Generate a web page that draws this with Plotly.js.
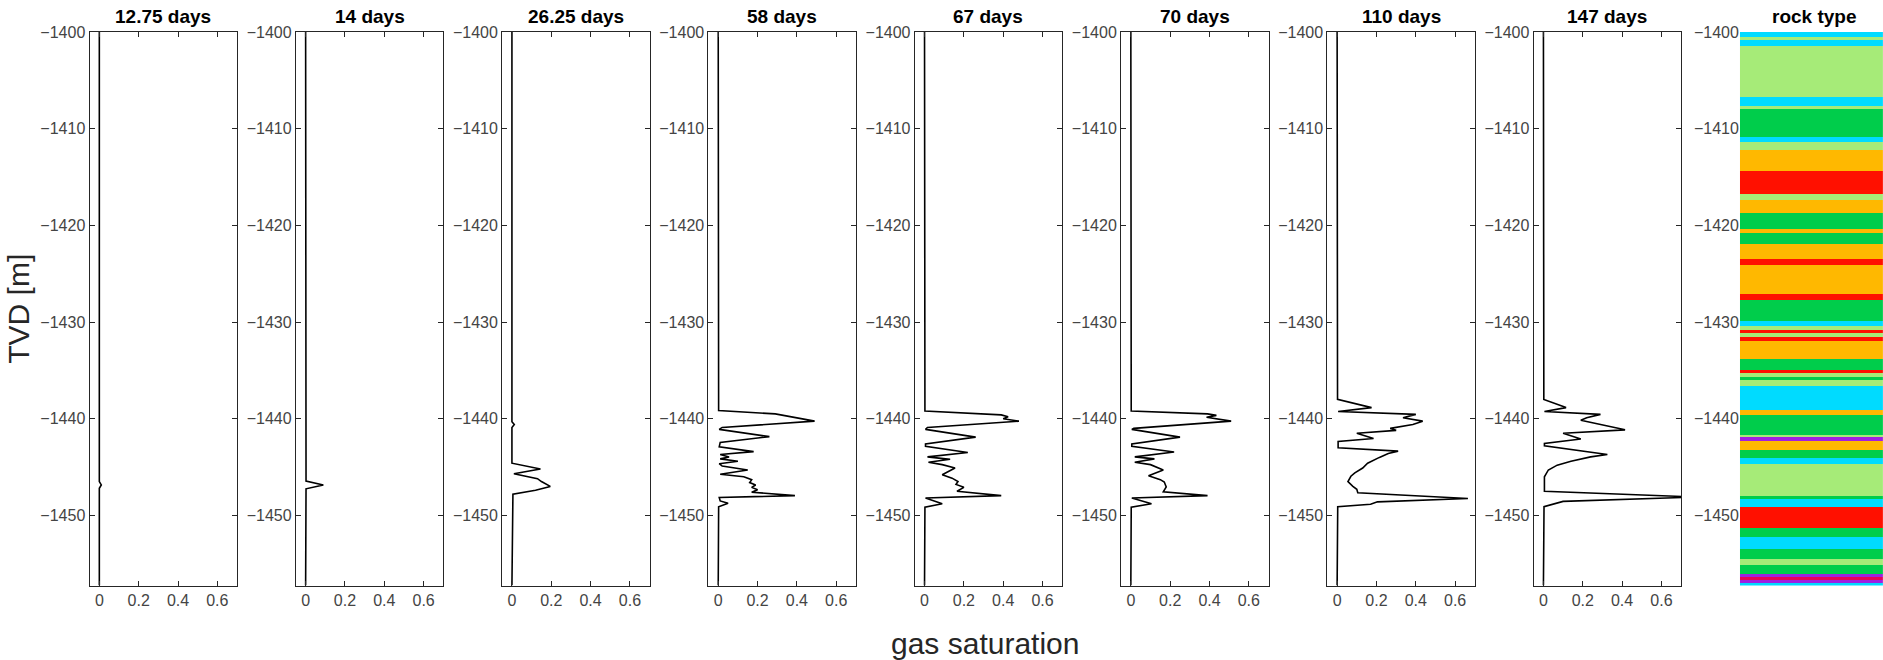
<!DOCTYPE html>
<html>
<head>
<meta charset="utf-8">
<script src="https://cdn.plot.ly/plotly-3.0.1.min.js"></script>
<style>html,body{margin:0;padding:0;background:#fff;}#chart{width:1883px;height:660px;}</style>
</head>
<body>
<div id="chart"></div>
<script>
// ---------- data ----------
const panelTitles = ['12.75 days','14 days','26.25 days','58 days','67 days','70 days','110 days','147 days'];
const rockTitle = 'rock type';
const yTickVals = [-1450,-1440,-1430,-1420,-1410,-1400];
const xTickVals = [0,0.2,0.4,0.6];
const xTickText = ['0','0.2','0.4','0.6'];

const depth_12_75 = [-1400,-1446.5,-1446.85,-1447.2,-1457.25];
const sg_12_75    = [0,0,0.01,0,0];

const depth_14 = [-1400,-1446.45,-1446.85,-1447.25,-1457.25];
const sg_14    = [0,0.002,0.09,0.002,0];

const depth_26_25 = [-1400,-1440.3,-1440.6,-1440.9,-1444.6,-1445.2,-1445.7,-1446.2,-1446.5,-1447.0,-1447.4,-1447.8,-1457.25];
const sg_26_25    = [0,0,0.012,0,0,0.145,0.01,0.13,0.15,0.195,0.12,0.005,0];

const depth_58 = [-1400,-1439.15,-1439.5,-1439.8,-1440.25,-1440.9,-1441.1,-1441.85,-1442.45,-1442.9,-1443.4,-1443.7,-1443.95,-1444.15,-1444.4,-1444.65,-1444.9,-1445.3,-1445.75,-1446.0,-1446.3,-1446.6,-1446.85,-1447.1,-1447.35,-1447.6,-1447.95,-1448.15,-1448.5,-1448.75,-1449.1,-1457.25];
const sg_58    = [0,0.002,0.29,0.37,0.49,0.02,0.005,0.26,0.01,0.005,0.18,0.01,0.055,0.01,0.1,0.005,0.02,0.15,0.01,0.13,0.17,0.16,0.19,0.17,0.2,0.17,0.39,0.005,0.01,0.05,0.002,0];

const depth_67 = [-1400,-1439.2,-1439.6,-1439.8,-1440.0,-1440.25,-1440.9,-1441.1,-1441.9,-1442.6,-1442.85,-1443.5,-1443.95,-1444.2,-1444.5,-1444.75,-1445.1,-1445.8,-1446.15,-1446.5,-1446.8,-1447.1,-1447.5,-1447.95,-1448.2,-1448.8,-1449.15,-1457.25];
const sg_67    = [0,0.002,0.39,0.425,0.40,0.48,0.015,0.005,0.26,0.005,0.005,0.22,0.015,0.13,0.02,0.09,0.155,0.09,0.14,0.17,0.16,0.2,0.165,0.39,0.005,0.09,0.002,0];

const depth_70 = [-1400,-1439.2,-1439.5,-1439.65,-1439.85,-1440.25,-1441.0,-1441.1,-1441.9,-1442.6,-1442.85,-1443.45,-1443.95,-1444.15,-1444.5,-1444.75,-1445.3,-1445.9,-1446.3,-1446.55,-1447.05,-1447.55,-1447.95,-1448.2,-1448.8,-1449.15,-1457.25];
const sg_70    = [0,0.002,0.39,0.435,0.385,0.51,0.015,0.005,0.25,0.005,0.005,0.22,0.02,0.12,0.02,0.1,0.165,0.09,0.15,0.17,0.18,0.165,0.39,0.005,0.105,0.002,0];

const depth_110 = [-1400,-1438.0,-1438.85,-1439.25,-1439.55,-1439.9,-1440.25,-1440.6,-1441.0,-1441.2,-1441.5,-1442.05,-1442.35,-1443.0,-1443.35,-1443.6,-1444.0,-1444.6,-1445.1,-1445.6,-1445.95,-1446.5,-1447.0,-1447.3,-1447.65,-1448.25,-1448.6,-1448.85,-1449.1,-1457.25];
const sg_110    = [0,0.002,0.175,0.005,0.40,0.335,0.435,0.385,0.27,0.3,0.1,0.185,0.005,0.005,0.31,0.26,0.215,0.155,0.13,0.09,0.07,0.055,0.08,0.1,0.105,0.665,0.205,0.17,0.003,0];

const depth_147 = [-1400,-1438.0,-1438.85,-1439.25,-1439.55,-1439.9,-1440.15,-1441.15,-1441.5,-1442.1,-1442.55,-1442.8,-1443.7,-1443.95,-1444.4,-1444.8,-1445.3,-1446.0,-1447.5,-1448.1,-1448.55,-1449.1,-1457.25];
const sg_147    = [0,0.002,0.115,0.005,0.29,0.22,0.19,0.415,0.1,0.19,0.005,0.005,0.325,0.24,0.14,0.07,0.025,0.005,0.005,0.78,0.1,0.003,0];

// rock type layers: boundaries (top-down) and type code for each layer
const rockEdges = [-1400,-1400.5,-1400.8,-1401.45,-1406.7,-1407.65,-1408.0,-1410.9,-1411.35,-1412.2,-1414.35,-1416.8,-1417.4,-1418.75,-1420.4,-1420.75,-1421.95,-1423.5,-1424.15,-1427.1,-1427.7,-1429.85,-1430.4,-1430.82,-1431.1,-1431.58,-1431.92,-1433.85,-1434.96,-1435.3,-1435.65,-1435.99,-1436.61,-1439.1,-1439.65,-1441.68,-1441.92,-1442.27,-1443.23,-1444.1,-1444.72,-1447.96,-1448.3,-1449.1,-1451.34,-1452.27,-1453.47,-1454.54,-1455.13,-1456.06,-1456.34,-1456.68,-1457.03,-1457.25];
const rockType  = [1,2,1,2,1,2,3,1,2,4,5,2,4,3,4,3,4,5,4,5,3,1,2,5,2,5,4,3,5,2,3,2,1,4,3,2,6,4,3,1,2,3,1,5,3,1,3,2,3,6,7,6,1];
const rockColors = ['#00DBFF','#A6EB78','#00CD4B','#FFB800','#FF1000','#A020E0','#E8005A'];

// ---------- build ----------
const series = [
  [depth_12_75, sg_12_75],[depth_14, sg_14],[depth_26_25, sg_26_25],[depth_58, sg_58],
  [depth_67, sg_67],[depth_70, sg_70],[depth_110, sg_110],[depth_147, sg_147]
];
const W = 1883, H = 660;
const left0 = 89.5, step = 206.3, pw = 147.5;
const yTop = 32, yBot = 585.5;
const yDom = [1 - yBot/H, 1 - yTop/H];
const tickFont = {family:'Liberation Sans, Arial, sans-serif', size:16, color:'#444'};
const axColor = '#262626';
const titleFont = {family:'Liberation Sans, Arial, sans-serif', size:19, color:'#000', weight:'bold'};
const labelFont = {family:'Liberation Sans, Arial, sans-serif', size:30, color:'#262626'};

const traces = [];
const layout = {
  width: W, height: H, margin:{l:0,r:0,t:0,b:0},
  paper_bgcolor:'#fff', plot_bgcolor:'#fff', showlegend:false,
  annotations: []
};

series.forEach((s, i) => {
  const n = i + 1;
  const sfx = n === 1 ? '' : String(n);
  traces.push({
    type:'scatter', mode:'lines', x: s[1], y: s[0],
    xaxis:'x'+sfx, yaxis:'y'+sfx,
    line:{color:'#000', width:1.6}, hoverinfo:'skip'
  });
  const l = left0 + i*step;
  layout['xaxis'+sfx] = {
    domain:[l/W, (l+pw)/W], range:[-0.05,0.7], anchor:'y'+sfx,
    tickvals:xTickVals, ticktext:xTickText, ticks:'inside', ticklen:5, tickcolor:axColor,
    showline:true, linecolor:axColor, linewidth:1, mirror:'ticks',
    showgrid:false, zeroline:false, tickfont:tickFont, fixedrange:true
  };
  layout['yaxis'+sfx] = {
    domain:yDom, range:[-1457.25,-1400], anchor:'x'+sfx,
    tickvals:yTickVals, ticks:'inside', ticklen:5, tickcolor:axColor,
    showline:true, linecolor:axColor, linewidth:1, mirror:'ticks',
    showgrid:false, zeroline:false, tickfont:tickFont, fixedrange:true
  };
  layout.annotations.push({
    text: panelTitles[i], xref:'paper', yref:'paper',
    x:(l+pw/2)/W, y:1-16/H, xanchor:'center', yanchor:'middle', showarrow:false,
    font:titleFont
  });
});

// rock type column as heatmap with explicit bin edges
const rl = left0 + 8*step;
const zCol = rockType.map(t => [t]);
const nC = rockColors.length;
const cs = [];
rockColors.forEach((c, k) => { cs.push([k/nC, c]); cs.push([(k+1)/nC, c]); });
traces.push({
  type:'heatmap', x:[0,1], y:rockEdges, z:zCol,
  xaxis:'x9', yaxis:'y9', zmin:0.5, zmax:nC+0.5,
  colorscale:cs, showscale:false, hoverinfo:'skip'
});
layout.xaxis9 = {domain:[rl/W, 1], range:[0,1], anchor:'y9', showticklabels:false, ticks:'',
  showline:false, showgrid:false, zeroline:false, fixedrange:true};
layout.yaxis9 = {domain:yDom, range:[-1457.25,-1400], anchor:'x9', tickvals:yTickVals, ticks:'',
  showline:false, showgrid:false, zeroline:false, tickfont:tickFont, fixedrange:true};
layout.annotations.push({
  text: rockTitle, xref:'paper', yref:'paper', x:(rl+pw/2)/W, y:1-16/H,
  xanchor:'center', yanchor:'middle', showarrow:false, font:titleFont
});

// axis labels
layout.annotations.push({
  text:'TVD [m]', xref:'paper', yref:'paper', x:19/W, y:(yDom[0]+yDom[1])/2, textangle:-90,
  xanchor:'center', yanchor:'middle', showarrow:false, font:labelFont
});
layout.annotations.push({
  text:'gas saturation', xref:'paper', yref:'paper', x:985/W, y:1-643/H,
  xanchor:'center', yanchor:'middle', showarrow:false, font:labelFont
});

Plotly.newPlot('chart', traces, layout, {displayModeBar:false, staticPlot:true});
</script>
</body>
</html>
